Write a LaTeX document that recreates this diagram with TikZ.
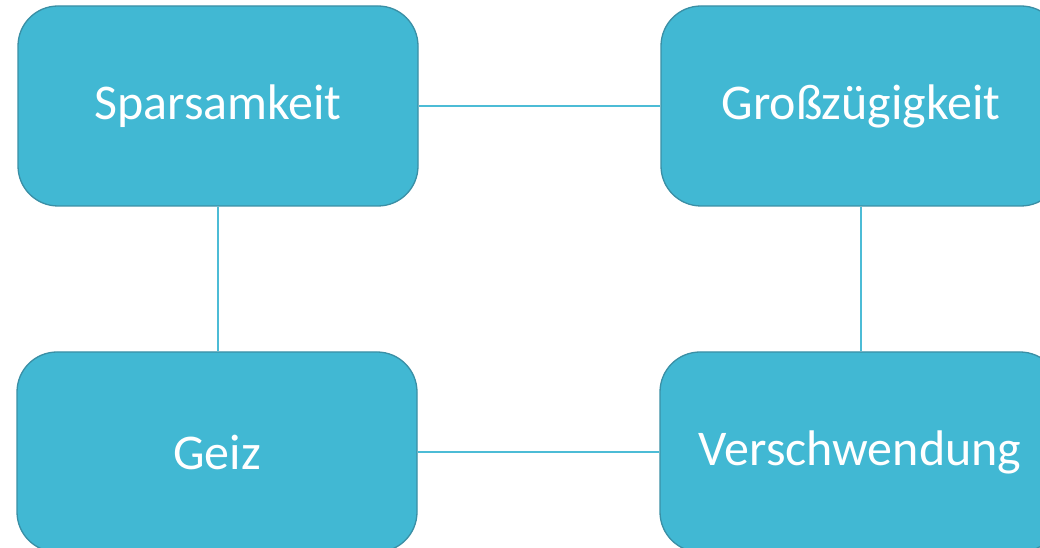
\documentclass[tikz,border=0pt]{standalone}
\usepackage{fontspec}
\setmainfont{Carlito}
\definecolor{boxfill}{HTML}{41B8D3}
\definecolor{boxedge}{HTML}{3A8FA5}
\definecolor{linkcol}{HTML}{4CBCD6}
\begin{document}
\begin{tikzpicture}[x=1pt,y=1pt,
  card/.style={draw=boxedge, line width=1.3pt, fill=boxfill, rounded corners=40pt,
    minimum width=400pt, minimum height=200pt, inner sep=0pt,
    text=white, font=\fontsize{50}{58}\selectfont},
  link/.style={draw=linkcol, line width=1.8pt}]
\useasboundingbox (0,0) rectangle (1040,548);
\clip (0,0) rectangle (1040,548);
\fill[white] (0,0) rectangle (1040,548);
\node[card] (spar) at (218,442) {\raisebox{-2pt}{Sparsamkeit}};
\node[card] (gross) at (861,442) {\raisebox{-2pt}{Großzügigkeit}};
\node[card] (geiz) at (217,96) {\raisebox{-2pt}{Geiz}};
\node[card] (versch) at (860,96) {\raisebox{-2pt}{Verschwendung}};
\draw[link] (spar.east) -- (gross.west);
\draw[link] (geiz.east) -- (versch.west);
\draw[link] (spar.south) -- (spar.south |- geiz.north);
\draw[link] (gross.south) -- (gross.south |- versch.north);
\end{tikzpicture}
\end{document}
